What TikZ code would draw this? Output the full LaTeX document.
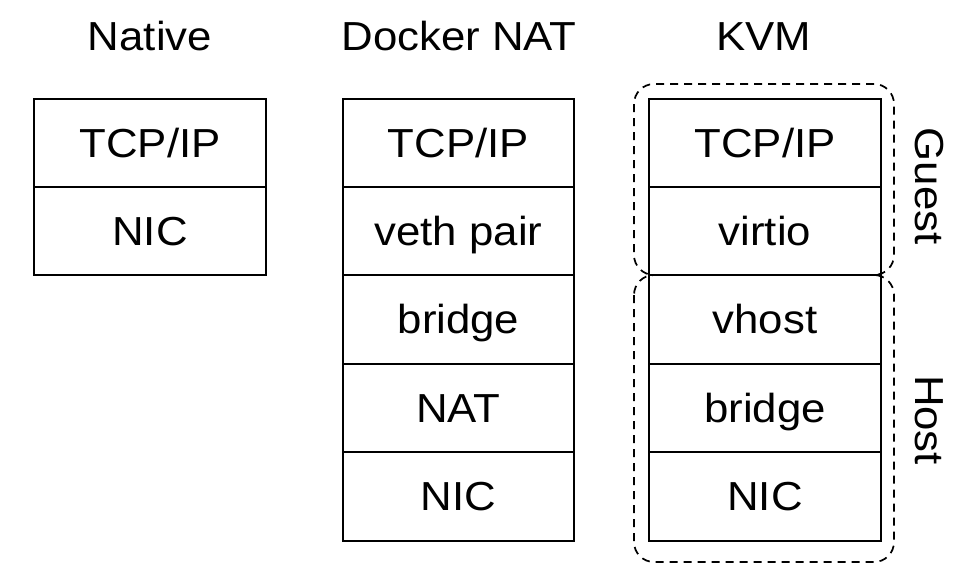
\documentclass[tikz,border=0pt]{standalone}
\usepackage{fontspec}
\setmainfont{Liberation Sans}[FakeStretch=1.08]
\begin{document}
\begin{tikzpicture}[x=0.75pt,y=-0.75pt,
  cell/.style={draw=black,line width=1.5pt,rectangle,inner sep=0pt,
    minimum width=173.5pt,minimum height=66.3pt,
    text height=21.6pt,text depth=0pt,
    font=\fontsize{30.4}{36}\selectfont},
  title/.style={anchor=base,inner sep=0pt,font=\fontsize{30.4}{36}\selectfont},
  side/.style={anchor=base,inner sep=0pt,rotate=-90,font=\fontsize{30.4}{36}\selectfont},
  group/.style={draw=black,line width=1.3pt,dash pattern=on 6pt off 4.5pt,rounded corners=15pt}]
\useasboundingbox (0,0) rectangle (967,575);
% titles
\node[title] (tn) at (150,50) {Native};
\node[title] (td) at (459,50) {Docker NAT};
\node[title] (tk) at (764,50) {KVM};
% Native
\node[cell] (n1) at (150,142.7) {TCP/IP};
\node[cell] (n2) at (150,231.1) {NIC};
% Docker
\node[cell] (d1) at (458.5,142.7) {TCP/IP};
\node[cell] (d2) at (458.5,231.1) {veth pair};
\node[cell] (d3) at (458.5,319.5) {bridge};
\node[cell] (d4) at (458.5,407.9) {NAT};
\node[cell] (d5) at (458.5,496.3) {NIC};
% KVM
\node[cell] (k1) at (765,142.7) {TCP/IP};
\node[cell] (k2) at (765,231.1) {virtio};
\node[cell] (k3) at (765,319.5) {vhost};
\node[cell] (k4) at (765,407.9) {bridge};
\node[cell] (k5) at (765,496.3) {NIC};
% groups
\draw[group] (634,84) rectangle (894,275);
\draw[group] (634,275) rectangle (894,562);
\node[side] (guest) at (915,186) {Guest};
\node[side] (host) at (915,420) {Host};
\end{tikzpicture}
\end{document}
